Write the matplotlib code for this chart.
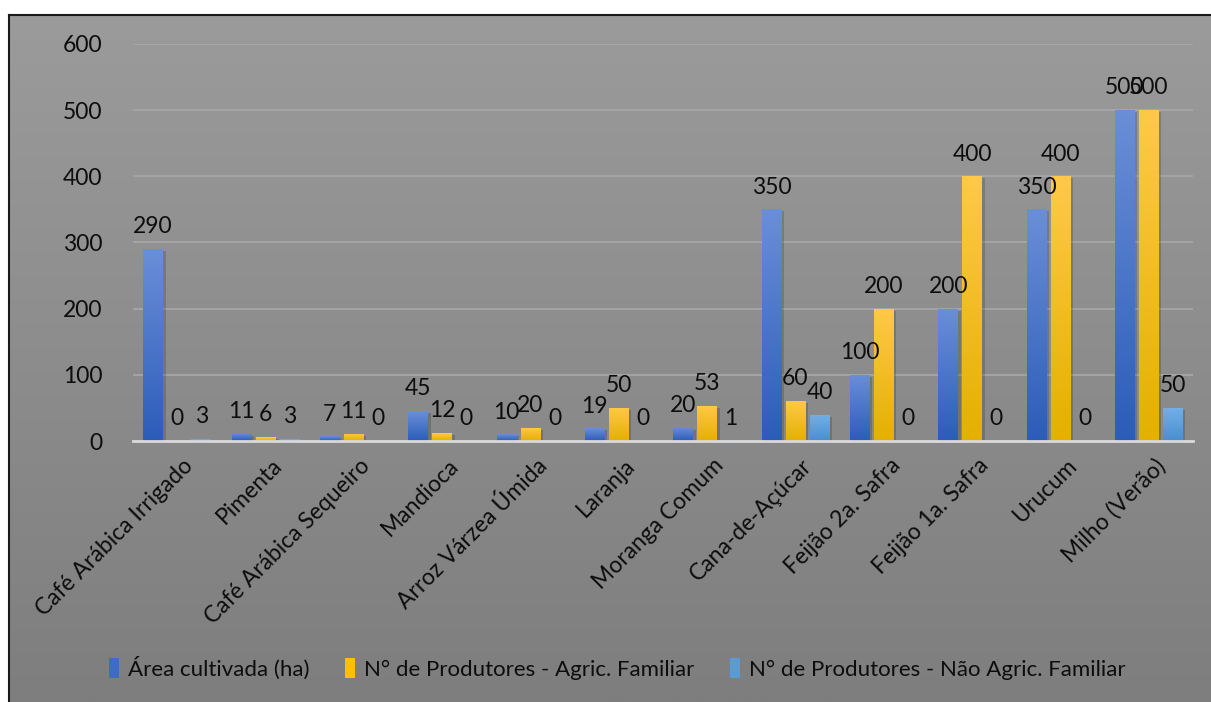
import numpy as np
import matplotlib
matplotlib.use("Agg")
import matplotlib.pyplot as plt
from matplotlib.colors import LinearSegmentedColormap
from matplotlib.patches import Rectangle
import matplotlib.transforms as mtransforms

plt.rcParams['font.family'] = ['Lato', 'DejaVu Sans']

categories = ['Café Arábica Irrigado', 'Pimenta', 'Café Arábica Sequeiro', 'Mandioca',
              'Arroz Várzea Úmida', 'Laranja', 'Moranga Comum', 'Cana-de-Açúcar',
              'Feijão 2a. Safra', 'Feijão 1a. Safra', 'Urucum', 'Milho (Verão)']
area_ha = [290, 11, 7, 45, 10, 19, 20, 350, 100, 200, 350, 500]
prod_familiar = [0, 6, 11, 12, 20, 50, 53, 60, 200, 400, 400, 500]
prod_nao_familiar = [3, 3, 0, 0, 0, 0, 1, 40, 0, 0, 0, 50]

series_names = ['Área cultivada (ha)', 'N° de Produtores - Agric. Familiar',
                'N° de Produtores - Não Agric. Familiar']
# (top colour, bottom colour) of each bar gradient
gradients = [('#6a8fd8', '#2c5cb9'), ('#ffc948', '#e4b000'), ('#74b0e6', '#4a8ed0')]
legend_colors = ['#3d6bc7', '#ffc000', '#5b9bd5']

FS = 16.5
TXT = '#0d0d0d'

W, H = 1211, 702
fig = plt.figure(figsize=(W / 100, H / 100), dpi=100)
fig.patch.set_facecolor('white')

# grey gradient panel with a dark frame on the top and left
bg = fig.add_axes([9 / W, 0, 1 - 9 / W, 1 - 15 / H])
bg_grad = np.linspace(0, 1, 256).reshape(-1, 1)
bg.imshow(bg_grad, aspect='auto', extent=[0, 1, 0, 1], origin='lower',
          cmap=LinearSegmentedColormap.from_list('bg', ['#7e7e7e', '#9b9b9b']))
bg.set_xlim(0, 1)
bg.set_ylim(0, 1)
bg.axis('off')
fig.add_artist(plt.Line2D([8.5 / W, 8.5 / W], [0, 1 - 14.5 / H], color='#1a1a1a', lw=1.5))
fig.add_artist(plt.Line2D([8.5 / W, 1], [1 - 14.5 / H, 1 - 14.5 / H], color='#1a1a1a', lw=1.5))

ax = fig.add_axes([133 / W, 1 - 441 / H, 1060 / W, (441 - 44) / H])
ax.set_facecolor('none')

n = len(categories)
x = np.arange(n)
bar_w = 0.225
step = 0.272
values = [area_ha, prod_familiar, prod_nao_familiar]

grad = np.linspace(0, 1, 256).reshape(-1, 1)
for k, (vals, (c_top, c_bot)) in enumerate(zip(values, gradients)):
    cmap = LinearSegmentedColormap.from_list('s%d' % k, [c_bot, c_top])
    pos = x + (k - 1) * step
    bars = ax.bar(pos, vals, width=bar_w, color='none', edgecolor='none', zorder=3)
    for b, v in zip(bars, vals):
        if v > 0:
            x0, w, h = b.get_x(), b.get_width(), b.get_height()
            # soft drop shadow to the lower right
            shadow_tr = ax.transData + mtransforms.ScaledTranslation(2.5 / 100, -2 / 100, fig.dpi_scale_trans)
            ax.add_patch(Rectangle((x0, 0), w, h, facecolor='black', alpha=0.16,
                                   transform=shadow_tr, zorder=2))
            im = ax.imshow(grad, aspect='auto', extent=[x0, x0 + w, 0, h], origin='lower',
                           cmap=cmap, zorder=3)
            im.set_clip_path(b)
        ax.annotate(f'{v}', xy=(b.get_x() + b.get_width() / 2, v), xytext=(0, 8.5),
                    textcoords='offset points', ha='center', va='bottom',
                    fontsize=FS, color=TXT, zorder=5, annotation_clip=False)

ax.set_xlim(-0.5, n - 0.5)
ax.set_ylim(0, 600)
ax.set_yticks(np.arange(0, 601, 100))
ax.set_xticks([])
ax.tick_params(axis='y', length=0, pad=22, labelsize=FS, labelcolor=TXT)
ax.yaxis.grid(True, color='#a8a8a8', lw=1.2, zorder=0)
ax.set_axisbelow(True)
for s in ['top', 'right', 'left']:
    ax.spines[s].set_visible(False)
ax.spines['bottom'].set_color('#d9d9d9')
ax.spines['bottom'].set_linewidth(2)
ax.spines['bottom'].set_zorder(4)

for i, name in enumerate(categories):
    ax.annotate(name, xy=(i, 0), xycoords=('data', 'axes fraction'), xytext=(4, -10),
                textcoords='offset points', rotation=45, rotation_mode='anchor',
                ha='right', va='top', fontsize=FS, color=TXT)

handles = [Rectangle((0, 0), 1, 1, facecolor=c) for c in legend_colors]
fig.legend(handles, series_names, loc='center', bbox_to_anchor=(617 / W, 1 - 668 / H),
           ncol=3, frameon=False, fontsize=16, handlelength=0.45, handleheight=0.95,
           handletextpad=0.4, columnspacing=1.6, labelcolor=TXT)

fig.savefig('out.png', dpi=100)
